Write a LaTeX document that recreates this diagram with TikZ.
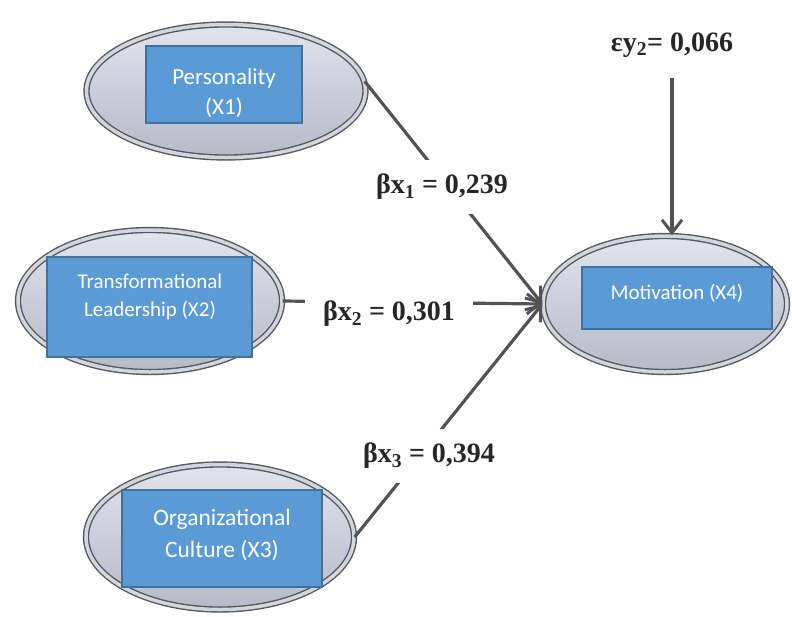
\documentclass[tikz,border=0pt]{standalone}
\usepackage{fontspec}
\setmainfont{Liberation Serif}
\newfontfamily\boxfont{Carlito}
\usetikzlibrary{shapes.geometric,arrows.meta}
\definecolor{boxblue}{HTML}{5B9BD5}
\definecolor{boxedge}{HTML}{41719C}
\definecolor{ringdark}{HTML}{55585F}
\definecolor{ringlight}{HTML}{D3D6DD}
\definecolor{elltop}{HTML}{E2E5EC}
\definecolor{ellmid}{HTML}{C9CEDA}
\definecolor{ellbot}{HTML}{B6BBC8}
\definecolor{arrowgray}{HTML}{535353}
\begin{document}
\begin{tikzpicture}[x=1pt,y=-1pt,
  latent/.style={ellipse, draw=ringdark, line width=1.4pt, double=ringlight, double distance=3.5pt,
    top color=elltop, bottom color=ellbot, middle color=ellmid, inner sep=0pt},
  bluebox/.style={rectangle, fill=boxblue, draw=boxedge, line width=1.6pt, inner sep=0pt},
  boxtext/.style={text=white, align=center, inner sep=0pt},
  coef/.style={fill=white, inner xsep=18pt, inner ysep=14pt,
    font=\bfseries\fontsize{28}{32}\selectfont, text=black!85},
  conn/.style={draw=arrowgray, line width=3.2pt,
    -{Straight Barb[length=13pt, width=20pt, line width=3pt]}}]
\useasboundingbox[fill=white] (0,0) rectangle (792,616);

% latent variables
\node[latent, minimum width=279pt, minimum height=133pt] (e1) at (226,91) {};
\node[latent, minimum width=264pt, minimum height=142pt] (e2) at (150,301) {};
\node[latent, minimum width=268pt, minimum height=145pt] (e3) at (220,537) {};
\node[latent, minimum width=244pt, minimum height=136pt] (e4) at (665,304) {};

% blue boxes
\node[bluebox, minimum width=156pt, minimum height=77pt] (b1) at (224,84.5) {};
\node[bluebox, minimum width=205pt, minimum height=100pt] (b2) at (149.5,307) {};
\node[bluebox, minimum width=200pt, minimum height=97pt] (b3) at (222,538.5) {};
\node[bluebox, minimum width=190pt, minimum height=62pt] (b4) at (677,298) {};

\begin{scope}
  \clip (b1.south west) rectangle (b1.north east);
  \node[boxtext, font=\boxfont\fontsize{23}{30}\selectfont] (t1) at (224,93) {Personality\\(X1)};
\end{scope}
\node[boxtext, font=\boxfont\fontsize{21}{28}\selectfont] (t2) at (150,297) {Transformational\\Leadership (X2)};
\node[boxtext, font=\boxfont\fontsize{23.5}{32}\selectfont] (t3) at (222,535) {Organizational\\Culture (X3)};
\node[boxtext, font=\boxfont\fontsize{21}{28}\selectfont] (t4) at (677,293) {Motivation (X4)};

% error term
\node[coef, fill=none, inner ysep=4pt] (eps) at (672,45) {εy\textsubscript{2}= 0,066};

% connectors
\draw[conn] (e1.4) -- (e4.west);
\draw[conn] (e2.east) -- (e4.west);
\draw[conn] (e3.east) -- (e4.west);
\draw[conn, shorten <=16pt] (eps.south) -- (eps.south |- e4.north);

% coefficients
\node[coef] (c1) at (442,187) {βx\textsubscript{1} = 0,239};
\node[coef] (c2) at (389,314) {βx\textsubscript{2} = 0,301};
\node[coef] (c3) at (429,456) {βx\textsubscript{3} = 0,394};
\end{tikzpicture}
\end{document}
